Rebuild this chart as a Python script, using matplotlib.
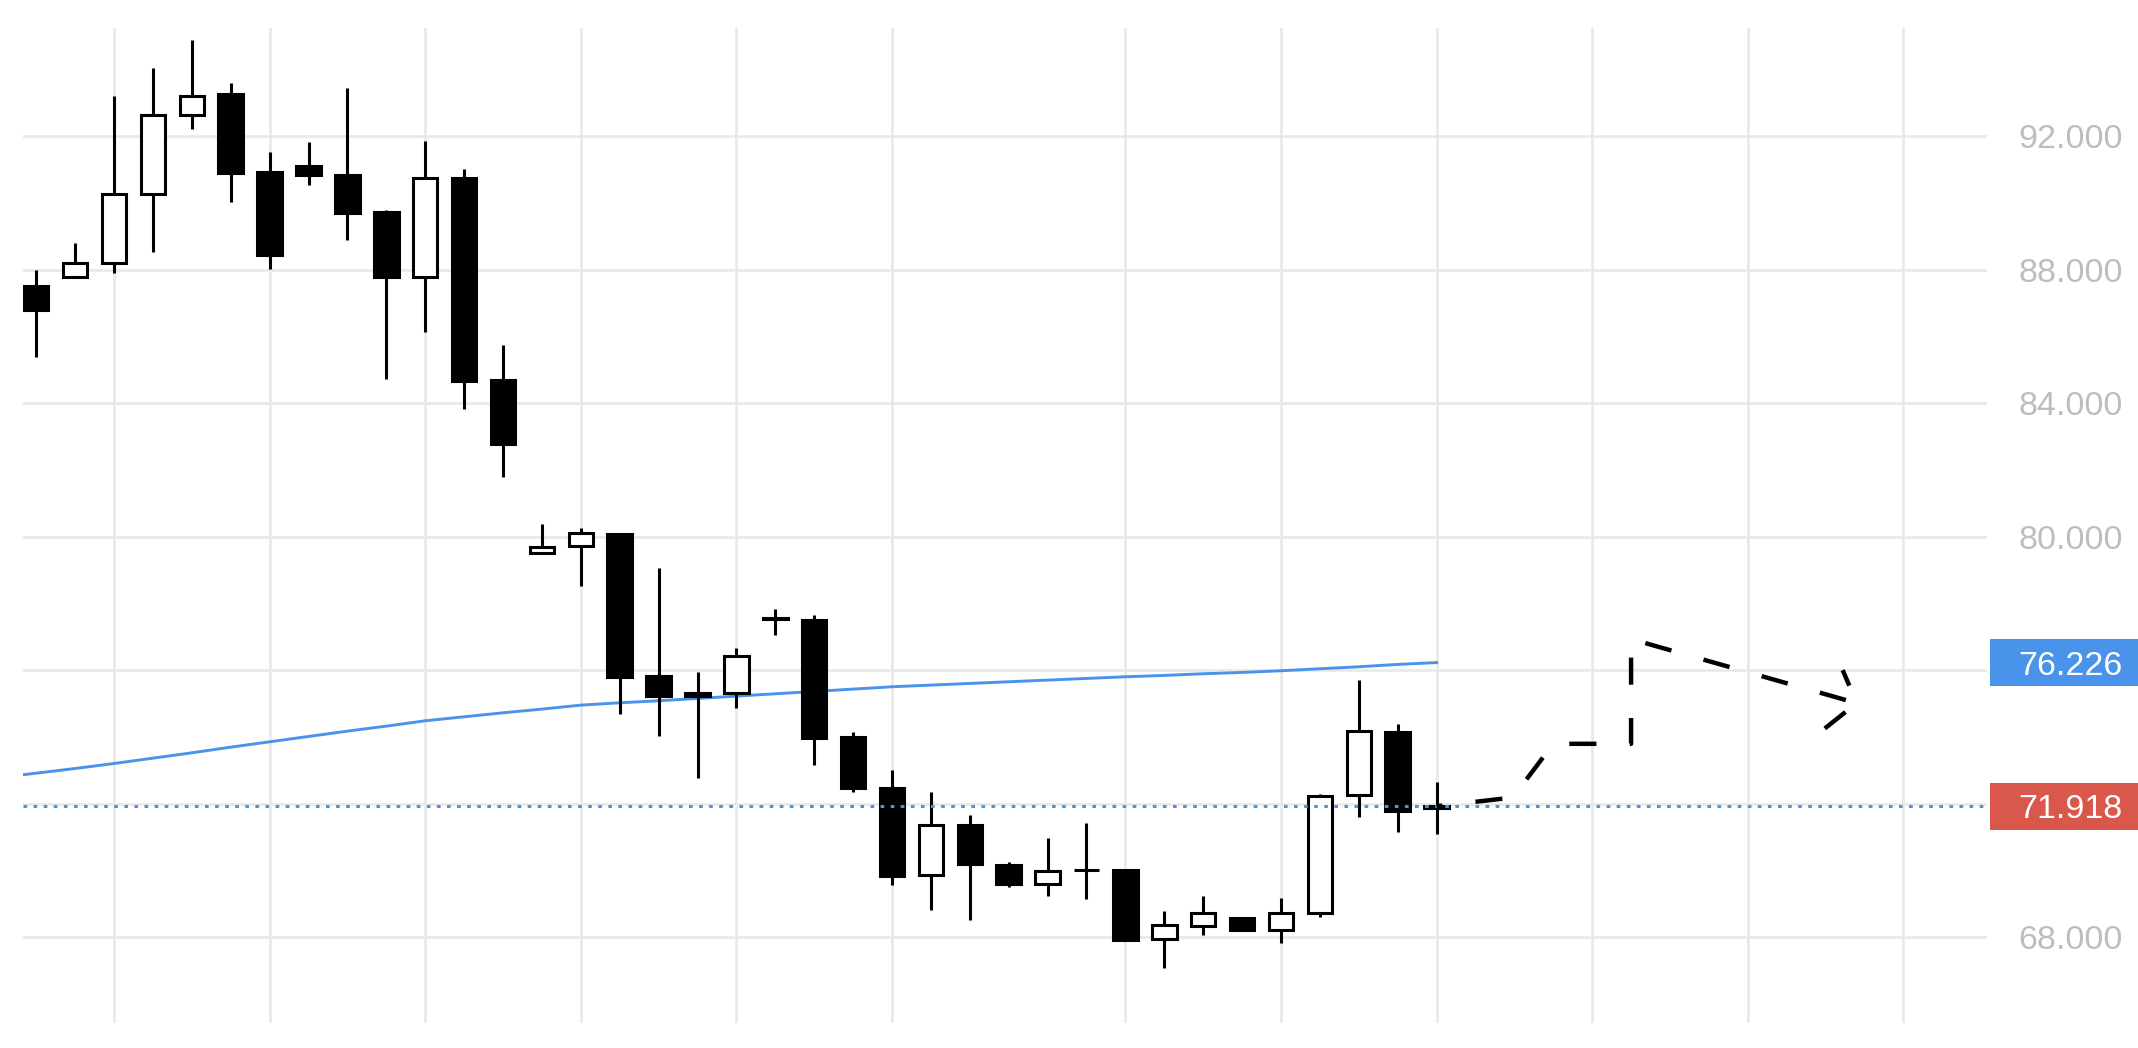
import matplotlib
matplotlib.use("Agg")
import matplotlib.pyplot as plt
import matplotlib.transforms as mtransforms
from matplotlib.patches import Rectangle

plt.rcParams['font.family'] = ['Liberation Sans', 'DejaVu Sans']

# daily candles
idx = list(range(1, 38))
opens = [87.53, 87.78, 88.20, 90.26, 92.65, 93.28, 90.93, 91.11, 90.85, 89.73,
         87.78, 90.76, 84.70, 79.50, 79.71, 80.09, 75.82, 75.31, 75.32, 77.56,
         77.49, 73.98, 72.48, 69.85, 71.37, 70.16, 69.59, 70.02, 70.00, 67.93,
         68.33, 68.56, 68.22, 68.72, 72.26, 74.15, 71.87]
highs = [88.00, 88.80, 93.20, 94.04, 94.88, 93.60, 91.53, 91.83, 93.46, 89.80,
         91.85, 91.01, 85.74, 80.39, 80.26, 80.12, 79.07, 75.94, 76.66, 77.83,
         77.66, 74.13, 73.01, 72.35, 71.66, 70.24, 70.98, 71.42, 70.03, 68.79,
         69.24, 68.56, 69.17, 72.29, 75.69, 74.38, 72.64]
lows = [85.38, 87.78, 87.90, 88.52, 92.21, 90.03, 88.02, 90.53, 88.90, 84.74,
        86.13, 83.84, 81.79, 79.50, 78.52, 74.69, 74.03, 72.77, 74.87, 77.06,
        73.16, 72.35, 69.56, 68.80, 68.51, 69.51, 69.22, 69.14, 67.91, 67.07,
        68.07, 68.22, 67.82, 68.61, 71.59, 71.14, 71.09]
closes = [86.81, 88.20, 90.26, 92.65, 93.22, 90.91, 88.43, 90.83, 89.70, 87.78,
          90.76, 84.68, 82.79, 79.69, 80.12, 75.78, 75.21, 75.21, 76.42, 77.54,
          73.95, 72.48, 69.84, 71.35, 70.19, 69.59, 69.98, 70.00, 67.91, 68.35,
          68.72, 68.22, 68.72, 72.24, 74.16, 71.78, 71.918]

# moving average (blue line)
ma_idx = list(range(0, 38))
ma_vals = [72.77, 72.91, 73.05, 73.20, 73.36, 73.52, 73.69, 73.85, 74.01, 74.17,
           74.32, 74.48, 74.60, 74.72, 74.83, 74.95, 75.02, 75.08, 75.15, 75.22,
           75.29, 75.36, 75.43, 75.50, 75.55, 75.60, 75.65, 75.70, 75.75, 75.80,
           75.84, 75.89, 75.93, 75.98, 76.04, 76.10, 76.17, 76.226]
ma_last = 76.226
last_price = 71.918

# hand-drawn forecast path and its arrow head
path_x = [37, 38.96, 40.0, 42.0, 42.0, 47.80]
path_y = [71.918, 72.18, 73.79, 73.79, 76.93, 75.01]
head_x = [47.44, 47.80, 46.98]
head_y = [76.00, 75.01, 74.25]

grid_x = [3, 7, 11, 15, 19, 23, 29, 33, 37, 41, 45, 49]
price_ticks = [68, 72, 76, 80, 84, 88, 92]
price_labels = ['68.000', '', '', '80.000', '84.000', '88.000', '92.000']

blue = '#4a93ea'
red = '#d9574b'

fig = plt.figure(figsize=(21.38, 10.48), dpi=100)
ax = fig.add_axes([23 / 2138, 1 - 1023 / 1048, 1964 / 2138, 995 / 1048])
ax.set_xlim(0.66, 51.15)
ax.set_ylim(65.42, 95.25)
for s in ax.spines.values():
    s.set_visible(False)

ax.set_xticks(grid_x)
ax.set_yticks(price_ticks, price_labels)
ax.grid(True, color='#e9e9e9', lw=1.9, zorder=0)
ax.set_axisbelow(True)
ax.tick_params(axis='x', length=0, labelbottom=False)
ax.yaxis.tick_right()
ax.tick_params(axis='y', length=0, pad=98, labelsize=24.5, labelcolor='#bdbdbd')
for lab in ax.get_yticklabels():
    lab.set_horizontalalignment('right')

ax.plot(ma_idx, ma_vals, color=blue, lw=2.1, zorder=1)

ax.vlines(idx, lows, highs, color='black', lw=2.2, zorder=2)
bottoms = [min(o, c) for o, c in zip(opens, closes)]
heights = [abs(c - o) for o, c in zip(opens, closes)]
fills = ['white' if c >= o else 'black' for o, c in zip(opens, closes)]
ax.bar(idx, heights, bottom=bottoms, width=0.63, color=fills,
       edgecolor='black', linewidth=2.2, zorder=3)

ax.axhline(last_price, color=blue, lw=2.2, linestyle=(0, (1.2, 2.1)), zorder=4)

ax.plot(path_x, path_y, color='black', lw=3.2, linestyle=(4.8, (6.1, 7.5)),
        zorder=4)
ax.plot(head_x, head_y, color='black', lw=3.2, linestyle=(2.3, (6.1, 7.5)),
        zorder=4)

blend = mtransforms.blended_transform_factory(ax.transAxes, ax.transData)
box_h = 47 / 33.36
for val, col in [(ma_last, blue), (last_price, red)]:
    ax.add_patch(Rectangle((1.0015, val - box_h / 2), 0.08, box_h, transform=blend,
                           facecolor=col, edgecolor='none', clip_on=False, zorder=6))
    ax.text(1.0692, val, f'{val:.3f}', transform=blend, ha='right',
            va='center_baseline', color='white', fontsize=24.5, zorder=7)

fig.savefig('out.png', dpi=100, facecolor='white')
